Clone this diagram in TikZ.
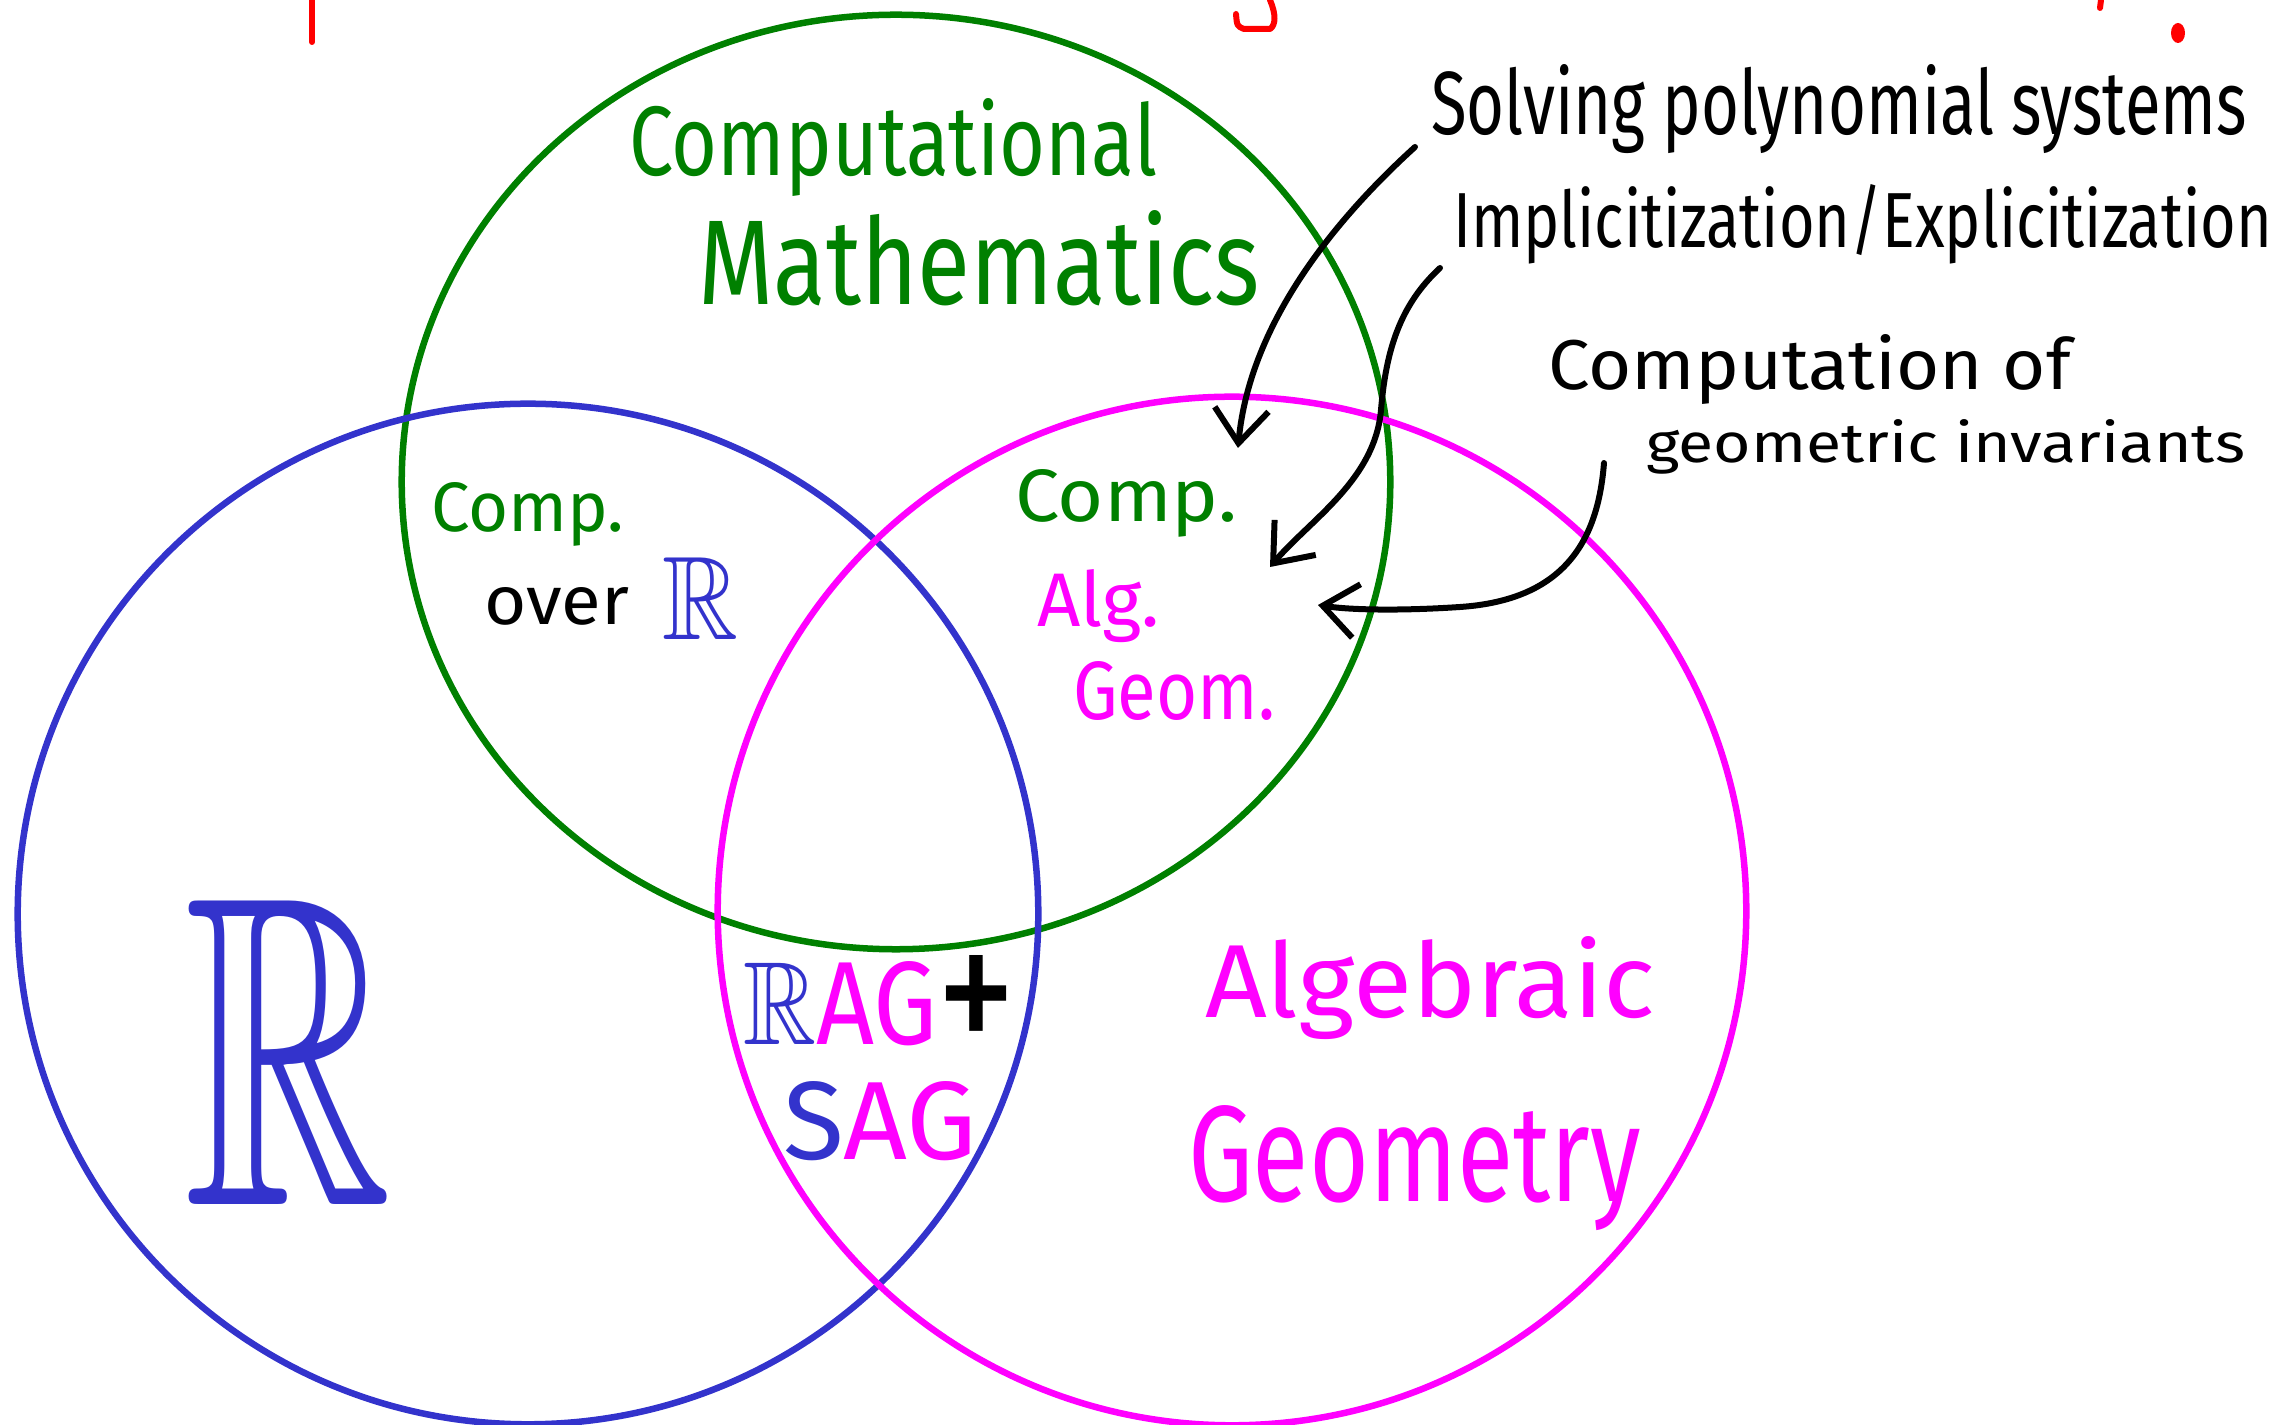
\documentclass[tikz,border=0pt]{standalone}
\usepackage{fontspec}
\setmainfont{Fira Sans}
\usepackage{amssymb}
\usepackage{graphicx}
\usetikzlibrary{arrows.meta}
\definecolor{cgreen}{RGB}{0,128,0}
\definecolor{cblue}{RGB}{51,51,204}
\definecolor{cmag}{RGB}{255,0,255}
\definecolor{cred}{RGB}{255,0,0}
\newlength\hwu
\setlength\hwu{0.01cm}
\newcommand{\hwbox}[3]{\resizebox{#1\hwu}{#2\hwu}{#3}}
\tikzset{
  hw/.style={inner sep=0pt, outer sep=0pt, anchor=base west},
  ring/.style={line width=0.065cm},
  arr/.style={line width=0.06cm, line cap=round, line join=round,
    -{Straight Barb[length=0.34cm,width=0.54cm]}},
  redmark/.style={cred, line width=0.06cm, line cap=round, line join=round}
}
\begin{document}
\begin{tikzpicture}[x=0.01cm, y=-0.01cm]
\useasboundingbox (0,0) rectangle (2277,1425);

% circles
\draw[ring, cgreen] (896,482) ellipse [x radius=4.94cm, y radius=4.67cm];
\draw[ring, cblue] (528,914) circle [radius=5.10cm];
\draw[ring, cmag] (1232,911) circle [radius=5.14cm];

% cut-off red marks at the top
\draw[redmark] (312,0) -- (312,42);
\draw[redmark] (1270,0) .. controls (1276,14) and (1276,25) .. (1270,29) -- (1244,29) .. controls (1237,26) .. (1236,14);
\draw[redmark] (2101,0) -- (2100,8);
\fill[cred] (2178,33) ellipse [x radius=0.07cm, y radius=0.1cm];

% green region titles
\node[hw, text=cgreen] (compt) at (629,176) {\hwbox{528}{77}{Computational}};
\node[hw, text=cgreen] (math) at (698,305) {\hwbox{562}{94}{Mathematics}};

% Comp. over R
\node[hw, text=cgreen] (compl) at (431,532) {\hwbox{193}{49}{Comp.}};
\node[hw, text=black] (over) at (484,625) {\hwbox{145}{37}{over}};
\node[hw, text=cblue] (rsmall) at (662,640) {\hwbox{76}{82}{$\mathbb{R}$}};

% Comp. Alg. Geom.
\node[hw, text=cgreen] (compr) at (1015,522) {\hwbox{222}{52}{Comp.}};
\node[hw, text=cmag] (alg) at (1037,627) {\hwbox{123}{57}{Alg.}};
\node[hw, text=cmag] (geom) at (1073,720) {\hwbox{202}{58}{Geom.}};

% big R
\node[hw, text=cblue] (rbig) at (184,1205) {\hwbox{208}{305}{$\mathbb{R}$}};

% RAG+ SAG
\node[hw] (rag) at (743,1045) {\hwbox{194}{83}{\textcolor{cblue}{$\mathbb{R}$}\textcolor{cmag}{AG}}};
\node[hw, text=black] (plus) at (936,1061) {\hwbox{80}{105}{+}};
\node[hw] (sag) at (783,1160) {\hwbox{194}{78}{\textcolor{cblue}{S}\textcolor{cmag}{AG}}};

% Algebraic Geometry
\node[hw, text=cmag] (algeb) at (1205,1018) {\hwbox{450}{81}{Algebraic}};
\node[hw, text=cmag] (geometry) at (1188,1202) {\hwbox{453}{96}{Geometry}};

% right-hand labels
\node[hw] (solv) at (1431,135) {\hwbox{816}{70}{Solving polynomial systems}};
\node[hw] (impl) at (1453,248) {\hwbox{819}{63}{Implicitization/Explicitization}};
\node[hw] (compn) at (1548,390) {\hwbox{523}{55}{Computation of}};
\node[hw] (geoinv) at (1646,463) {\hwbox{599}{43}{geometric invariants}};

% arrow targets
\coordinate (t1) at (1238,448);
\coordinate (t2) at (1270,567);
\coordinate (t3) at (1318,605);

\draw[arr] ([shift={(-16,12)}]solv.base west) .. controls (1340,215) and (1250,320) .. (t1);
\draw[arr] ([shift={(-13,20)}]impl.base west) .. controls (1400,305) and (1386,350) .. (1381,410)
  .. controls (1375,480) and (1310,520) .. (t2);
\draw[arr] ([shift={(-42,0)}]geoinv.base west) .. controls (1598,540) and (1565,600) .. (1460,607)
  .. controls (1400,611) and (1350,610) .. (t3);
\end{tikzpicture}
\end{document}
